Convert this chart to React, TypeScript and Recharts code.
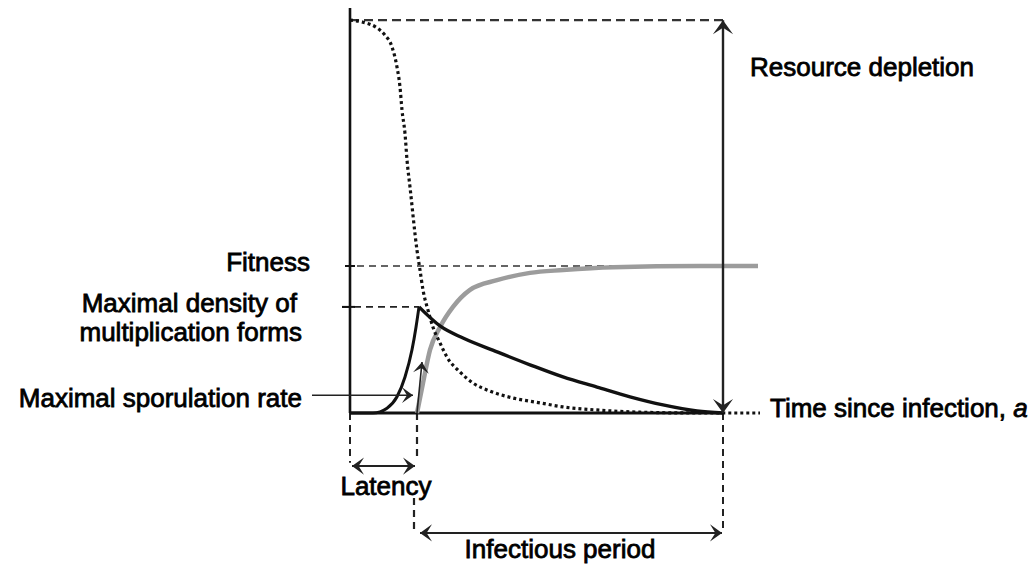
import React from 'react';
import { ComposedChart, Line, XAxis, YAxis, ReferenceLine, ReferenceDot } from 'recharts';

const W = 1035;
const H = 568;

// Domains (time since infection, normalised level)
const X_DOMAIN: [number, number] = [-35, 68.5];
const Y_DOMAIN: [number, number] = [-0.3827, 1.0198];

// Key conceptual values
const LATENCY_END = 6.7;
const INFECTION_END = 37.3;
const RESOURCE_TOP = 0.97;
const FITNESS_LEVEL = 0.363;
const PEAK_T = 6.9;
const PEAK_DENSITY = 0.262;
const AXIS_TOP = 1.0;

// Resource (dotted) curve
const resourceT = [0, 1.3, 2.7, 3.5, 4.2, 4.7, 5.0, 5.2, 5.5, 5.7, 6.0, 6.7, 7.0, 7.3, 7.8, 8.3, 9.0, 9.7, 11.0, 12.3, 14.0, 16.3, 19.0, 21.3, 25.0, 29.0, 35.0, 41.0];
const resourceV = [0.97, 0.965, 0.951, 0.933, 0.904, 0.854, 0.805, 0.748, 0.69, 0.625, 0.558, 0.402, 0.353, 0.304, 0.254, 0.212, 0.173, 0.138, 0.101, 0.074, 0.054, 0.037, 0.025, 0.015, 0.007, 0.002, 0, 0];

// Density of multiplication forms (rise then decay)
const riseT = [0, 2.3, 3.7, 4.7, 5.5, 6.2, 6.6, 6.9];
const riseV = [0, 0, 0.012, 0.04, 0.089, 0.156, 0.212, 0.262];
const decayT = [6.9, 9.0, 11.3, 14.7, 18.0, 21.3, 24.7, 28.0, 31.3, 34.7, 37.3];
const decayV = [0.262, 0.215, 0.185, 0.151, 0.119, 0.089, 0.064, 0.04, 0.02, 0.005, 0];

// Fitness (gray) curve
const fitnessT = [6.7, 7.3, 8.0, 9.0, 10.3, 12.0, 14.7, 18.0, 21.3, 26.3, 35.0, 40.8];
const fitnessV = [0, 0.074, 0.156, 0.212, 0.262, 0.304, 0.328, 0.346, 0.353, 0.36, 0.363, 0.363];

// Text labels
const labelTexts = ['Resource depletion', 'Fitness', 'Maximal density of', 'multiplication forms', 'Maximal sporulation rate', 'Time since infection, ', 'Latency', 'Infectious period'];
const labelT = [40, -4, -5.3, -4.8, -4.8, 42, 3.6, 21];
const labelV = [0.832, 0.351, 0.249, 0.178, 0.015, -0.01, -0.202, -0.358];
const labelAnchor = ['start', 'end', 'end', 'end', 'end', 'start', 'middle', 'middle'];

const toPts = (ts: number[], vs: number[]) => ts.map((t, i) => ({ t, v: vs[i] }));

const resourceData = toPts(resourceT, resourceV);
const riseData = toPts(riseT, riseV);
const decayData = toPts(decayT, decayV);
const fitnessData = toPts(fitnessT, fitnessV);

const FONT = '"Liberation Sans", Arial, sans-serif';
const INK = '#111';

function headPoints(x: number, y: number, ang: number, size: number) {
  const L = size;
  const Wd = size * 0.72;
  const notch = size * 0.45;
  const base: [number, number][] = [[0, 0], [-L, -Wd], [-L + notch, 0], [-L, Wd]];
  const c = Math.cos(ang);
  const s = Math.sin(ang);
  return base.map(([px, py]) => `${x + px * c - py * s},${y + px * s + py * c}`).join(' ');
}

const arrowShape = (opts: { start?: boolean; end?: boolean; width: number; color: string; size: number }) => (p: any) => {
  const { x1, y1, x2, y2 } = p;
  const ang = Math.atan2(y2 - y1, x2 - x1);
  return (
    <g>
      <line x1={x1} y1={y1} x2={x2} y2={y2} stroke={opts.color} strokeWidth={opts.width} />
      {opts.end && <polygon points={headPoints(x2, y2, ang, opts.size)} fill={opts.color} />}
      {opts.start && <polygon points={headPoints(x1, y1, ang + Math.PI, opts.size)} fill={opts.color} />}
    </g>
  );
};

const textShape = (i: number) => (p: any) => (
  <text
    x={p.cx}
    y={p.cy}
    textAnchor={labelAnchor[i] as any}
    fontFamily={FONT}
    fontSize={26}
    fill="#000"
    stroke="#000"
    strokeWidth={0.8}
  >
    {labelTexts[i]}
    {i === 5 && <tspan fontStyle="italic">a</tspan>}
  </text>
);

export default function App() {
  return (
    <div style={{ position: 'absolute', left: 0, top: 0, background: '#fff' }}>
      <ComposedChart width={W} height={H} margin={{ top: 0, right: 0, bottom: 0, left: 0 }}>
        <XAxis type="number" dataKey="t" domain={X_DOMAIN} allowDataOverflow hide />
        <YAxis type="number" dataKey="v" domain={Y_DOMAIN} allowDataOverflow hide />

        {/* dashed guide lines */}
        <ReferenceLine segment={[{ x: 0, y: RESOURCE_TOP }, { x: INFECTION_END, y: RESOURCE_TOP }]} stroke="#333" strokeWidth={2.2} strokeDasharray="9 5" />
        <ReferenceLine segment={[{ x: -0.5, y: FITNESS_LEVEL }, { x: INFECTION_END, y: FITNESS_LEVEL }]} stroke="#333" strokeWidth={1.6} strokeDasharray="7 5" />
        <ReferenceLine segment={[{ x: -0.8, y: PEAK_DENSITY }, { x: PEAK_T, y: PEAK_DENSITY }]} stroke="#222" strokeWidth={1.8} strokeDasharray="7 5" />
        <ReferenceLine segment={[{ x: 0, y: 0 }, { x: 0, y: -0.123 }]} stroke="#222" strokeWidth={2} strokeDasharray="7 5" />
        <ReferenceLine segment={[{ x: LATENCY_END, y: 0 }, { x: LATENCY_END, y: -0.116 }]} stroke="#222" strokeWidth={2.2} strokeDasharray="7 5" />
        <ReferenceLine segment={[{ x: LATENCY_END - 0.3, y: -0.21 }, { x: LATENCY_END - 0.3, y: -0.296 }]} stroke="#222" strokeWidth={2.2} strokeDasharray="7 5" />
        <ReferenceLine segment={[{ x: INFECTION_END, y: 0 }, { x: INFECTION_END, y: -0.296 }]} stroke="#222" strokeWidth={2} strokeDasharray="7 5" />

        {/* ticks */}
        <ReferenceLine segment={[{ x: -0.5, y: FITNESS_LEVEL }, { x: 0.5, y: FITNESS_LEVEL }]} stroke="#111" strokeWidth={2} />
        <ReferenceLine segment={[{ x: -0.8, y: PEAK_DENSITY }, { x: 0.5, y: PEAK_DENSITY }]} stroke="#111" strokeWidth={2} />

        {/* axes */}
        <ReferenceLine segment={[{ x: 0, y: 0 }, { x: 0, y: AXIS_TOP }]} stroke={INK} strokeWidth={2.6} />
        <ReferenceLine segment={[{ x: 0, y: 0 }, { x: INFECTION_END, y: 0 }]} stroke={INK} strokeWidth={3} />

        {/* curves */}
        <Line data={fitnessData} dataKey="v" type="monotone" stroke="#9c9c9c" strokeWidth={4.5} dot={false} activeDot={false} isAnimationActive={false} />
        <Line data={resourceData} dataKey="v" type="monotone" stroke="#111" strokeWidth={3.2} strokeDasharray="3 3" dot={false} activeDot={false} isAnimationActive={false} />
        <Line data={riseData} dataKey="v" type="monotone" stroke="#111" strokeWidth={3} dot={false} activeDot={false} isAnimationActive={false} />
        <Line data={decayData} dataKey="v" type="monotone" stroke="#111" strokeWidth={3.4} dot={false} activeDot={false} isAnimationActive={false} />

        {/* arrows */}
        <ReferenceLine segment={[{ x: INFECTION_END, y: 0 }, { x: INFECTION_END, y: RESOURCE_TOP }]} shape={arrowShape({ start: true, end: true, width: 2.4, color: '#222', size: 14 })} />
        <ReferenceLine segment={[{ x: 0.2, y: -0.131 }, { x: LATENCY_END - 0.2, y: -0.131 }]} shape={arrowShape({ start: true, end: true, width: 2, color: '#222', size: 12 })} />
        <ReferenceLine segment={[{ x: LATENCY_END + 0.3, y: -0.296 }, { x: INFECTION_END - 0.1, y: -0.296 }]} shape={arrowShape({ start: true, end: true, width: 2, color: '#222', size: 12 })} />
        <ReferenceLine segment={[{ x: -3.8, y: 0.044 }, { x: 6.3, y: 0.044 }]} shape={arrowShape({ end: true, width: 1.6, color: '#222', size: 11 })} />
        <ReferenceLine segment={[{ x: LATENCY_END, y: 0 }, { x: 7.2, y: 0.126 }]} shape={arrowShape({ end: true, width: 1.6, color: '#222', size: 11 })} />

        {/* labels */}
        {labelTexts.map((_, i) => (
          <ReferenceDot key={i} x={labelT[i]} y={labelV[i]} r={0} ifOverflow="visible" shape={textShape(i)} />
        ))}
      </ComposedChart>
    </div>
  );
}
